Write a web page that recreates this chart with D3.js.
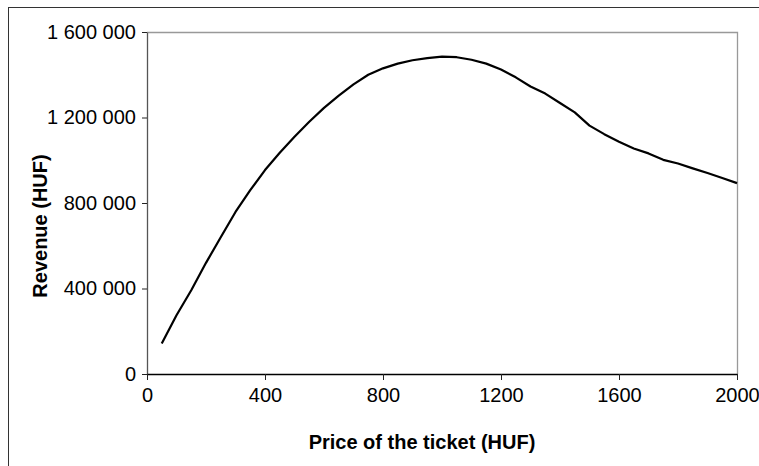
<!DOCTYPE html>
<html><head><meta charset="utf-8">
<script src="https://cdn.jsdelivr.net/npm/d3@7"></script>
<style>
html,body{margin:0;padding:0;background:#fff;}
svg{display:block;}
text{font-family:"Liberation Sans",Arial,sans-serif;fill:#000;}
</style></head>
<body>
<svg id="c" width="759" height="466"></svg>
<script>
const prices = [50,100,150,200,250,300,350,400,450,500,550,600,650,700,750,800,850,900,950,1000,
  1050,1100,1150,1200,1250,1300,1350,1400,1450,1500,1550,1600,1650,1700,1750,1800,1850,1900,1950,2000];
const revenue = [143000,275000,392000,520000,640000,758000,860000,954000,1035000,1110000,
  1180000,1245000,1302000,1355000,1400000,1430000,1452000,1468000,1478000,1485000,
  1482000,1470000,1452000,1425000,1388000,1345000,1312000,1268000,1224000,1162000,
  1122000,1087000,1055000,1032000,1002000,985000,962000,940000,917000,893000];
const xTicks = [0,400,800,1200,1600,2000];
const yTicks = [0,400000,800000,1200000,1600000];
const xTitle = "Price of the ticket (HUF)";
const yTitle = "Revenue (HUF)";

const svg = d3.select("#c");
const L=147, R=737, T=32, B=374;

// outer chart frame
svg.append("rect").attr("x",8.5).attr("y",7.5).attr("width",800).attr("height",500)
  .attr("fill","none").attr("stroke","#333").attr("stroke-width",1);

const x = d3.scaleLinear().domain([0,2000]).range([L,R]);
const y = d3.scaleLinear().domain([0,1600000]).range([B,T]);

// plot area border (top/right)
svg.append("path").attr("d",`M${L},${T+0.5}H${R+0.5}V${B}`)
  .attr("fill","none").attr("stroke","#999").attr("stroke-width",1.3);

const fmt = v => d3.format(",")(v).replace(/,/g," ");

const yAxis = svg.append("g").attr("transform",`translate(${L},0)`)
  .call(d3.axisLeft(y).tickValues(yTicks).tickFormat(fmt).tickSize(5).tickSizeOuter(0).tickPadding(6));
yAxis.select(".domain").attr("stroke","#555").attr("stroke-width",1.3);
yAxis.selectAll(".tick line").attr("stroke","#222");
yAxis.selectAll("text").attr("font-size",20).attr("fill","#000")
  .attr("font-family","Liberation Sans, Arial, sans-serif");

const xAxis = svg.append("g").attr("transform",`translate(0,${B})`)
  .call(d3.axisBottom(x).tickValues(xTicks).tickFormat(d3.format("d")).tickSize(6).tickSizeOuter(0).tickPadding(8));
xAxis.select(".domain").attr("stroke","#000").attr("stroke-width",1.6);
xAxis.selectAll(".tick line").attr("stroke","#222");
xAxis.selectAll("text").attr("font-size",20).attr("fill","#000")
  .attr("font-family","Liberation Sans, Arial, sans-serif");

// line
const line = d3.line().x((d,i)=>x(prices[i])).y(d=>y(d));
svg.append("path").datum(revenue).attr("d",line)
  .attr("fill","none").attr("stroke","#000").attr("stroke-width",2.2).attr("stroke-linejoin","round");

// titles
svg.append("text").attr("x",422).attr("y",449).attr("text-anchor","middle")
  .attr("font-size",20).attr("font-weight","bold").text(xTitle);
svg.append("text").attr("transform","translate(47,226) rotate(-90)").attr("text-anchor","middle")
  .attr("font-size",20).attr("font-weight","bold").text(yTitle);
</script>
</body></html>
